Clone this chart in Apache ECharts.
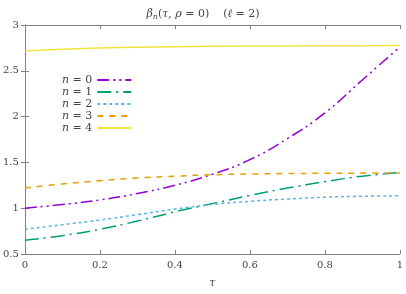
<!DOCTYPE html>
<html><head><meta charset="utf-8">
<script src="https://cdn.jsdelivr.net/npm/echarts@6/dist/echarts.min.js"></script>
<style>html,body{margin:0;padding:0;background:#fff}#c{width:406px;height:294px}</style>
</head><body><div id="c"></div>
<script>
const tau = [0,0.1,0.2,0.3,0.4,0.5,0.6,0.7,0.8,0.9,1.0];
const n0 = [1.00,1.04,1.09,1.16,1.25,1.37,1.53,1.76,2.04,2.40,2.76];
const n1 = [0.65,0.70,0.77,0.86,0.96,1.05,1.14,1.22,1.29,1.35,1.39];
const n2 = [0.77,0.82,0.87,0.93,0.99,1.04,1.075,1.10,1.12,1.13,1.135];
const n3 = [1.22,1.265,1.30,1.33,1.35,1.365,1.373,1.378,1.381,1.383,1.385];
const n4 = [2.715,2.735,2.748,2.757,2.763,2.767,2.77,2.772,2.773,2.774,2.775];
const names = ['n = 0','n = 1','n = 2','n = 3','n = 4'];
const colors = ['#9400d3','#009e73','#56b4e9','#e69f00','#f0e442'];
const dashes = [[12,4,2,4,2,4],[14,5,2,5],[3,3],[6,6],'solid'];
const all = [n0,n1,n2,n3,n4];
const serif = '"DejaVu Serif", "Liberation Serif", serif';
const chart = echarts.init(document.getElementById('c'));
const axisCommon = {
  axisLine:{show:true,lineStyle:{color:'#808080',width:1}},
  axisTick:{inside:true,length:4,lineStyle:{color:'#808080'}},
  splitLine:{show:false}
};
chart.setOption({
  animation:false,
  title:{text:'{i|β}{s|n}({i|τ}, {i|ρ} = 0)    ({i|ℓ} = 2)',left:'center',top:2,
    textStyle:{fontFamily:serif,fontSize:11,fontWeight:'normal',color:'#444',
      rich:{i:{fontStyle:'italic',fontFamily:serif,fontSize:11,color:'#444'},
            s:{fontStyle:'italic',fontFamily:serif,fontSize:8,color:'#444',verticalAlign:'bottom',padding:[6,0,0,0]}}}},
  grid:{left:23,right:3,top:25,bottom:36},
  legend:{left:57,top:69,orient:'vertical',align:'right',itemGap:0,itemWidth:34,itemHeight:10,
    data:names,
    itemStyle:{opacity:0},
    formatter:function(n){return '{i|n}'+n.slice(1);},
    textStyle:{fontFamily:serif,fontSize:11,color:'#444',lineHeight:12,
      rich:{i:{fontStyle:'italic',fontFamily:serif,fontSize:11,color:'#444',lineHeight:12}}}},
  xAxis:[
    Object.assign({type:'value',min:0,max:1,interval:0.2,name:'τ',nameLocation:'middle',nameGap:24,
      nameTextStyle:{fontFamily:serif,fontStyle:'italic',fontSize:11,color:'#444'},
      axisLabel:{fontFamily:serif,fontSize:10,color:'#444',margin:6}},axisCommon),
    Object.assign({type:'value',min:0,max:1,interval:0.2,position:'top',axisLabel:{show:false}},axisCommon)
  ],
  yAxis:[
    Object.assign({type:'value',min:0.5,max:3,interval:0.5,
      axisLabel:{fontFamily:serif,fontSize:10,color:'#444',margin:6,formatter:v=>String(v)}},axisCommon),
    Object.assign({type:'value',min:0.5,max:3,interval:0.5,position:'right',axisLabel:{show:false}},axisCommon)
  ],
  series: all.map((d,i)=>({
    name:names[i],type:'line',smooth:true,showSymbol:false,symbol:'none',
    data:tau.map((t,j)=>[t,d[j]]),
    itemStyle:{color:colors[i]},
    lineStyle:{color:colors[i],width:1.5,type:dashes[i]}
  }))
});
</script></body></html>
